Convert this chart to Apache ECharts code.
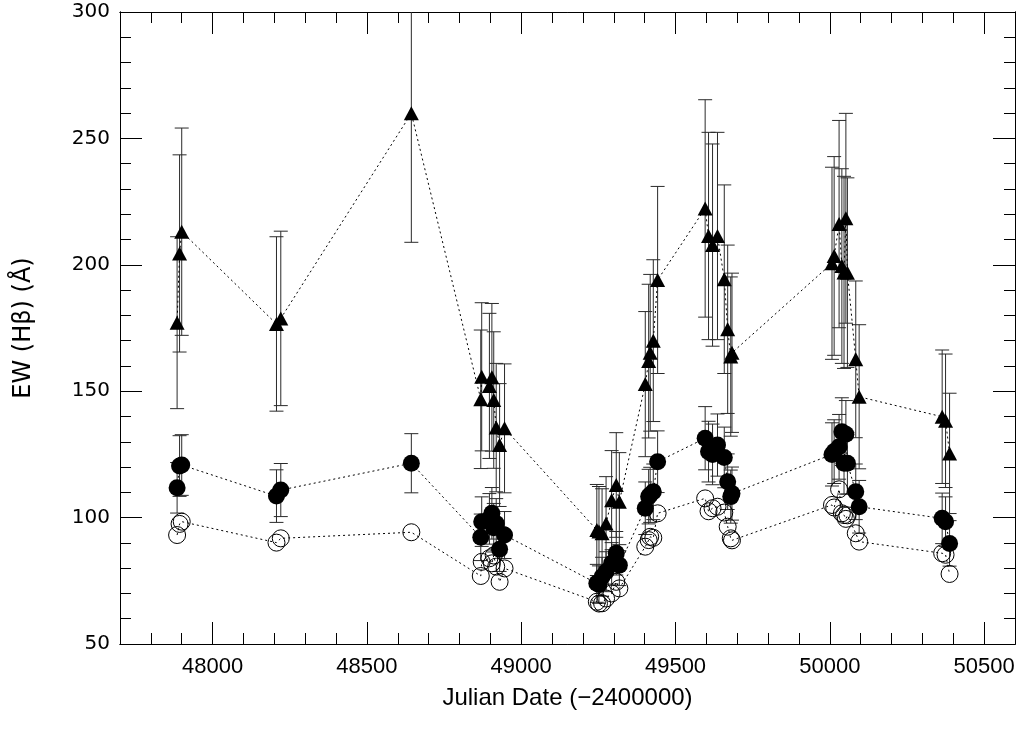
<!DOCTYPE html>
<html>
<head>
<meta charset="utf-8">
<script src="https://cdn.jsdelivr.net/npm/echarts@6/dist/echarts.min.js"></script>
<style>
  html, body { margin: 0; padding: 0; background: #fff; }
  #chart { width: 1021px; height: 729px; }
</style>
</head>
<body>
<div id="chart"></div>
<script>
// Julian Date (-2400000) of each epoch
const jd = [
  47885, 47893, 47900,
  48207, 48221,
  48644,
  48869, 48872, 48897, 48905, 48911, 48919, 48930, 48946,
  49245, 49252, 49262, 49275, 49293, 49308, 49318,
  49402, 49413, 49418, 49428, 49442,
  49596, 49607, 49620, 49636, 49658, 49669, 49679, 49683,
  50007, 50014, 50030, 50039, 50046, 50052, 50057, 50084, 50095,
  50364, 50375, 50388
];
// triangles
const ewTri = [
  177.1, 204.5, 213.1,
  176.6, 178.8,
  259.9,
  146.8, 155.7, 152.1, 155.5, 146.5, 135.6, 128.7, 135.3,
  95.1, 94.5, 93.8, 97.7, 106.9, 112.9, 106.3,
  152.8, 161.9, 165.2, 170.0, 194.0,
  222.3, 211.4, 207.8, 211.4, 194.3, 174.5, 163.7, 165.2,
  200.6, 203.5, 216.1, 199.5, 197.0, 218.4, 196.9, 162.6, 147.8,
  139.9, 138.3, 125.4
];
const errTri = [
  34.0, 39.0, 41.0,
  34.5, 34.5,
  51.0,
  27.4, 29.3, 28.7, 29.2, 27.0, 25.4, 24.3, 25.5,
  18.0, 17.8, 17.6, 18.5, 19.6, 20.7, 19.4,
  28.7, 30.4, 31.0, 32.0, 37.0,
  43.0, 41.0, 40.0, 41.0, 37.3, 33.3, 31.5, 31.5,
  38.0, 39.3, 41.0, 38.5, 38.0, 41.5, 37.5, 31.0, 28.5,
  26.4, 26.4, 23.8
];
// filled circles
const ewFill = [
  111.8, 120.4, 120.8,
  108.5, 110.9,
  121.5,
  92.2, 98.4, 99.5, 101.7, 96.0, 97.7, 87.5, 93.1,
  74.0, 73.5, 76.6, 78.6, 81.9, 85.9, 81.2,
  103.7, 108.3, 109.0, 110.2, 122.1,
  131.4, 126.1, 125.0, 128.7, 123.8, 114.2, 108.3, 109.5,
  125.0, 126.1, 128.0, 134.0, 121.5, 133.0, 121.5, 110.2, 104.3,
  99.7, 98.4, 89.8
];
const errFill = [
  10.0, 12.0, 12.0,
  10.4, 10.5,
  11.7,
  9.2, 9.8, 10.0, 10.2, 9.6, 9.8, 8.8, 9.3,
  7.5, 7.4, 7.7, 7.9, 8.2, 8.6, 8.1,
  10.4, 10.8, 10.9, 11.0, 12.2,
  12.5, 12.0, 12.0, 12.3, 12.0, 11.0, 10.5, 10.5,
  12.5, 12.6, 12.8, 13.4, 12.2, 13.3, 12.2, 11.0, 10.4,
  10.0, 9.8, 9.0
];
// open circles
const ewOpen = [
  93.1, 97.5, 98.4,
  90.1, 91.8,
  94.2,
  76.9, 82.5, 83.9, 81.9, 85.0, 80.6, 74.6, 79.9,
  66.7, 66.0, 66.1, 68.0, 70.0, 74.6, 72.0,
  88.5, 91.1, 92.4, 92.0, 101.7,
  107.6, 102.5, 103.7, 104.3, 102.0, 96.4, 91.8, 91.0,
  105.0, 104.0, 111.2, 101.7, 101.0, 99.5, 100.9, 93.8, 90.5,
  85.9, 85.3, 77.7
];
const xMajorTicks = [48000, 48500, 49000, 49500, 50000, 50500];

const pairs = (ys) => jd.map((x, i) => [x, ys[i]]);
const errData = (ys, es) => jd.map((x, i) => [x, ys[i] - es[i], ys[i] + es[i]]);

function renderErr(params, api) {
  const x = api.value(0), lo = api.value(1), hi = api.value(2);
  const p1 = api.coord([x, lo]);
  const p2 = api.coord([x, hi]);
  const w = 7;
  const style = { stroke: '#2a2a2a', lineWidth: 1 };
  return {
    type: 'group',
    children: [
      { type: 'line', shape: { x1: p1[0], y1: p1[1], x2: p2[0], y2: p2[1] }, style },
      { type: 'line', shape: { x1: p1[0] - w, y1: p1[1], x2: p1[0] + w, y2: p1[1] }, style },
      { type: 'line', shape: { x1: p2[0] - w, y1: p2[1], x2: p2[0] + w, y2: p2[1] }, style }
    ]
  };
}

const XMIN = 47700, XMAX = 50600, YMIN = 50, YMAX = 300;
const axisLine = { show: true, onZero: false, lineStyle: { color: '#000', width: 1 } };
const plain = (v) => String(v);

function xAx(pos, major, labels) {
  const a = {
    type: 'value', position: pos, min: XMIN, max: XMAX,
    axisLine, splitLine: { show: false },
    axisTick: { show: true, inside: true, length: major ? 22 : 11, lineStyle: { color: '#000', width: 1 } },
    axisLabel: { show: false }
  };
  if (major) {
    a.axisTick.customValues = xMajorTicks;
    a.axisLabel = labels ? {
      show: true, customValues: xMajorTicks, margin: 12, formatter: plain,
      fontFamily: 'Liberation Sans', fontSize: 22, color: '#000'
    } : { show: false };
  } else {
    a.interval = 100;
  }
  if (labels) {
    a.name = 'Julian Date (\u22122400000)';
    a.nameLocation = 'middle';
    a.nameGap = 42;
    a.nameTextStyle = { fontFamily: 'Liberation Sans', fontSize: 24, color: '#000' };
  }
  return a;
}
function yAx(pos, major, labels) {
  const a = {
    type: 'value', position: pos, min: YMIN, max: YMAX,
    interval: major ? 50 : 10,
    axisLine, splitLine: { show: false },
    axisTick: { show: true, inside: true, length: major ? 22 : 11, lineStyle: { color: '#000', width: 1 } },
    axisLabel: labels ? { show: true, margin: 10, formatter: plain, fontFamily: 'DejaVu Sans', fontSize: 20, color: '#000' } : { show: false }
  };
  if (labels) {
    a.name = 'EW (H\u03B2) (\u00C5)';
    a.nameLocation = 'middle';
    a.nameGap = 84;
    a.nameRotate = 90;
    a.nameTextStyle = { fontFamily: 'DejaVu Sans', fontSize: 24, color: '#000' };
  }
  return a;
}

const dotted = { color: '#000', width: 1, type: [2, 3] };

const chart = echarts.init(document.getElementById('chart'), null, { renderer: 'canvas' });
chart.setOption({
  animation: false,
  backgroundColor: '#fff',
  grid: { left: 120, right: 6, top: 12, bottom: 85, containLabel: false },
  xAxis: [xAx('bottom', true, true), xAx('bottom', false, false), xAx('top', true, false), xAx('top', false, false)],
  yAxis: [yAx('left', true, true), yAx('left', false, false), yAx('right', true, false), yAx('right', false, false)],
  series: [
    { type: 'custom', renderItem: renderErr, data: errData(ewTri, errTri), encode: { x: 0, y: [1, 2] }, clip: true, z: 1, silent: true },
    { type: 'custom', renderItem: renderErr, data: errData(ewFill, errFill), encode: { x: 0, y: [1, 2] }, clip: true, z: 1, silent: true },
    { type: 'line', data: pairs(ewOpen), symbol: 'circle', symbolSize: 17, showAllSymbol: true,
      lineStyle: dotted, itemStyle: { color: 'rgba(0,0,0,0)', borderColor: '#000', borderWidth: 1 }, z: 2, silent: true },
    { type: 'line', data: pairs(ewFill), symbol: 'circle', symbolSize: 17, showAllSymbol: true,
      lineStyle: dotted, itemStyle: { color: '#000' }, z: 3, silent: true },
    { type: 'line', data: pairs(ewTri), symbol: 'triangle', symbolSize: [15, 14], showAllSymbol: true,
      lineStyle: dotted, itemStyle: { color: '#000' }, z: 3, silent: true }
  ]
});
</script>
</body>
</html>
